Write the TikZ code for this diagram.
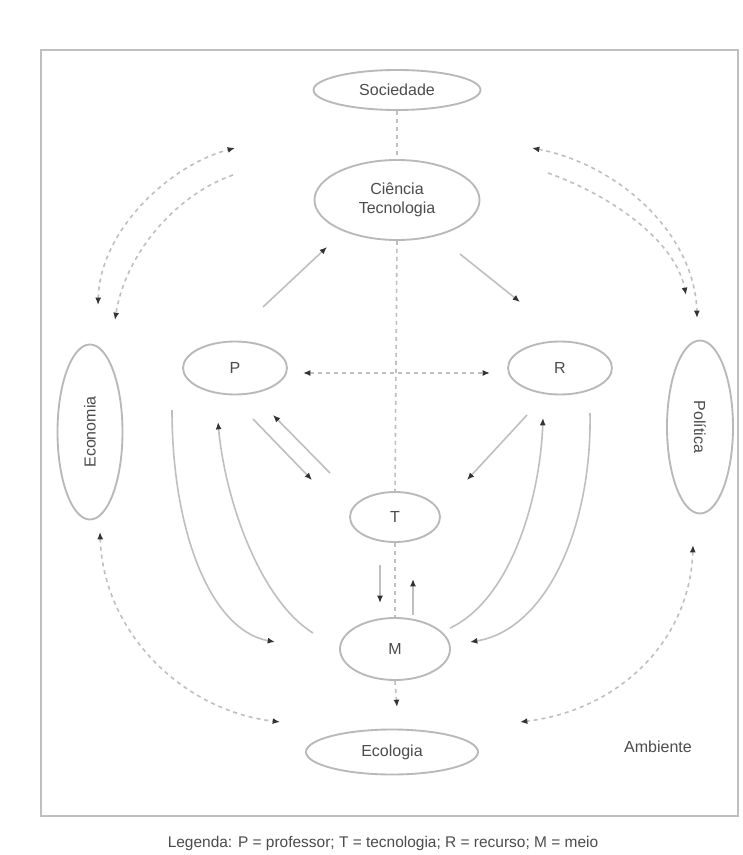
\documentclass[tikz,border=0pt]{standalone}
\usepackage{fontspec}
\setmainfont{Liberation Sans}
\usetikzlibrary{shapes.geometric,arrows.meta}
\newdimen\pxu \pxu=0.75pt
\tikzset{
  ell/.style={draw=gray!55, line width=1.4pt, ellipse, inner sep=0pt, text=black!70, font=\fontsize{12}{14}\selectfont},
  lin/.style={draw=gray!50, line width=1.2pt},
  dsh/.style={lin, dash pattern=on 3pt off 3pt},
  arr/.style={-{Latex[length=5.5pt,width=4.5pt,color=black!80]}},
  arrb/.style={{Latex[length=5.5pt,width=4.5pt,color=black!80]}-{Latex[length=5.5pt,width=4.5pt,color=black!80]}},
  lbl/.style={text=black!70, font=\fontsize{12}{14}\selectfont, inner sep=0pt}
}
\begin{document}
\begin{tikzpicture}[x=0.75pt,y=-0.75pt]
\useasboundingbox (0,0) rectangle (742,855);
\fill[white] (0,0) rectangle (742,855);
\draw[gray!50, line width=1.6pt] (41,50) rectangle (738,816);

% nodes
\node[ell, minimum width=167\pxu, minimum height=40\pxu] (soc) at (397,90) {Sociedade};
\node[ell, minimum width=165\pxu, minimum height=80\pxu, align=center] (ct) at (397,200) {Ciência\\Tecnologia};
\node[ell, minimum width=104\pxu, minimum height=53\pxu] (P) at (235,368) {P};
\node[ell, minimum width=104\pxu, minimum height=53\pxu] (R) at (560,368) {R};
\node[ell, minimum width=90\pxu, minimum height=50\pxu] (T) at (395,517) {T};
\node[ell, minimum width=110\pxu, minimum height=62\pxu] (M) at (395,649) {M};
\node[ell, minimum width=172\pxu, minimum height=45\pxu] (eco) at (392,752) {Ecologia};
\node[ell, minimum width=175\pxu, minimum height=65\pxu, rotate=90] (econ) at (90,432) {Economia};
\node[ell, minimum width=173\pxu, minimum height=66\pxu, rotate=-90] (pol) at (700,427) {Política};
\node[lbl] (amb) at (658,747) {Ambiente};
\node[lbl, font=\fontsize{11.6}{13}\selectfont] (leg) at (383,843) {Legenda: P = professor; T = tecnologia; R = recurso; M = meio};

% coordinates for free ends
\coordinate (mdown) at (397,707);
\coordinate (pr1) at (303,373); \coordinate (pr2) at (490,373);
\coordinate (a1s) at (263,307); \coordinate (a1e) at (327,247);
\coordinate (a2s) at (460,254); \coordinate (a2e) at (520,302);
\coordinate (b1s) at (330,473); \coordinate (b1e) at (273,415);
\coordinate (b2s) at (253,419); \coordinate (b2e) at (312,480);
\coordinate (c1s) at (527,415); \coordinate (c1e) at (467,480);
\coordinate (d1s) at (380,565); \coordinate (d1e) at (380,603);
\coordinate (d2s) at (413,615); \coordinate (d2e) at (413,579);
\coordinate (lo1) at (172,410); \coordinate (lo2) at (275,642);
\coordinate (li1) at (313,633); \coordinate (li2) at (218,422);
\coordinate (ri1) at (450,628); \coordinate (ri2) at (543,418);
\coordinate (ro1) at (590,413); \coordinate (ro2) at (470,642);
\coordinate (tlo1) at (98,305); \coordinate (tlo2) at (235,148);
\coordinate (tli1) at (233,175); \coordinate (tli2) at (115,320);
\coordinate (tro1) at (532,148); \coordinate (tro2) at (697,318);
\coordinate (tri1) at (548,173); \coordinate (tri2) at (686,295);
\coordinate (bl1) at (100,532); \coordinate (bl2) at (280,722);
\coordinate (br1) at (693,545); \coordinate (br2) at (520,722);

% vertical axis
\draw[dsh] (soc.south) -- (ct.north);
\draw[dsh] (ct.south) -- (T.north);
\draw[dsh] (T.south) -- (M.north);
\draw[dsh, arr] (M.south) -- (mdown);
% horizontal
\draw[dsh, arrb] (pr1) -- (pr2);
% straight arrows
\draw[lin, arr] (a1s) -- (a1e);
\draw[lin, arr] (a2s) -- (a2e);
\draw[lin, arr] (b1s) -- (b1e);
\draw[lin, arr] (b2s) -- (b2e);
\draw[lin, arr] (c1s) -- (c1e);
\draw[lin, arr] (d1s) -- (d1e);
\draw[lin, arr] (d2s) -- (d2e);
% curves
\draw[lin, arr] (lo1) .. controls (172,530) and (210,630) .. (lo2);
\draw[lin, arr] (li1) .. controls (260,600) and (225,500) .. (li2);
\draw[lin, arr] (ri1) .. controls (510,600) and (540,500) .. (ri2);
\draw[lin, arr] (ro1) .. controls (592,530) and (545,630) .. (ro2);
% dashed arcs
\draw[dsh, arrb] (tlo1) .. controls (100,230) and (170,165) .. (tlo2);
\draw[dsh, arr] (tli1) .. controls (175,195) and (125,255) .. (tli2);
\draw[dsh, arrb] (tro1) .. controls (620,165) and (695,235) .. (tro2);
\draw[dsh, arr] (tri1) .. controls (610,195) and (675,240) .. (tri2);
\draw[dsh, arrb] (bl1) .. controls (103,630) and (180,710) .. (bl2);
\draw[dsh, arrb] (br1) .. controls (690,640) and (620,710) .. (br2);
\end{tikzpicture}
\end{document}
